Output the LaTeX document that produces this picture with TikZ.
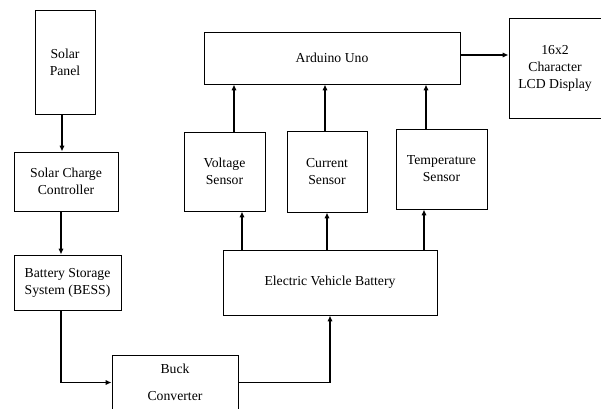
\documentclass[tikz,border=0pt]{standalone}
\usepackage{fontspec}
\setmainfont{Liberation Serif}
\usepackage{tikz}
\usetikzlibrary{positioning, arrows.meta, calc}

\begin{document}
\begin{tikzpicture}[x=0.03cm, y=-0.03cm,
    blk/.style={draw, line width=0.8pt, align=center, inner sep=0pt,
      font=\fontsize{11.7}{14.5}\selectfont},
    flow/.style={line width=1.2pt, -{Latex[length=5pt, width=4.5pt]}}]
    % Rahmen: 601 x 408 px, 1 px = 0.03 cm
    \clip (0,0) rectangle (601,408);
    \node[blk, minimum width=1.8cm,  minimum height=3.12cm] (panel) at (65,62)    {Solar\\Panel};
    \node[blk, minimum width=3.12cm, minimum height=1.77cm] (ctrl)  at (66,181.5) {Solar Charge\\Controller};
    \node[blk, minimum width=3.21cm, minimum height=1.65cm] (bess)  at (67.5,282.5) {Battery Storage\\System (BESS)};
    \node[blk, minimum width=3.78cm, minimum height=1.65cm] (buck)  at (175,382.5) {Buck\\[8.5pt]Converter};
    \node[blk, minimum width=7.68cm, minimum height=1.56cm] (uno)   at (332,58)   {Arduino Uno};
    \node[blk, minimum width=2.43cm, minimum height=2.37cm] (volt)  at (224.5,171.5) {Voltage\\Sensor};
    \node[blk, minimum width=2.4cm,  minimum height=2.43cm] (curr)  at (327,171.5) {Current\\Sensor};
    \node[blk, minimum width=2.73cm, minimum height=2.4cm]  (temp)  at (441.5,169) {Temperature\\Sensor};
    \node[blk, minimum width=6.42cm, minimum height=1.95cm] (evb)   at (330,282.5) {Electric Vehicle Battery};
    \node[blk, minimum width=2.76cm, minimum height=3.0cm]  (lcd)   at (555,68)   {16x2\\Character\\LCD Display};

    % Ladepfad
    \draw[flow] ([xshift=-0.09cm]panel.south) -- ([xshift=-0.09cm]panel.south |- ctrl.north);
    \draw[flow] ([xshift=-0.15cm]ctrl.south) -- ([xshift=-0.15cm]ctrl.south |- bess.north);
    \draw[flow] ([xshift=-0.2cm]bess.south) |- (buck.west);
    \draw[flow] (buck.east) -| (evb.south);

    % Messpfad
    \draw[flow] ([xshift=0.525cm]evb.north -| volt.south) -- ([xshift=0.525cm]volt.south);
    \draw[flow] (evb.north -| curr.south) -- (curr.south);
    \draw[flow] ([xshift=-0.525cm]evb.north -| temp.south) -- ([xshift=-0.525cm]temp.south);
    \draw[flow] ([xshift=0.285cm]volt.north) -- ([xshift=0.285cm]volt.north |- uno.south);
    \draw[flow] ([xshift=-0.06cm]curr.north) -- ([xshift=-0.06cm]curr.north |- uno.south);
    \draw[flow] ([xshift=-0.465cm]temp.north) -- ([xshift=-0.465cm]temp.north |- uno.south);
    \draw[flow] ([yshift=0.09cm]uno.east) -- ([yshift=0.09cm]uno.east -| lcd.west);
\end{tikzpicture}
\end{document}
